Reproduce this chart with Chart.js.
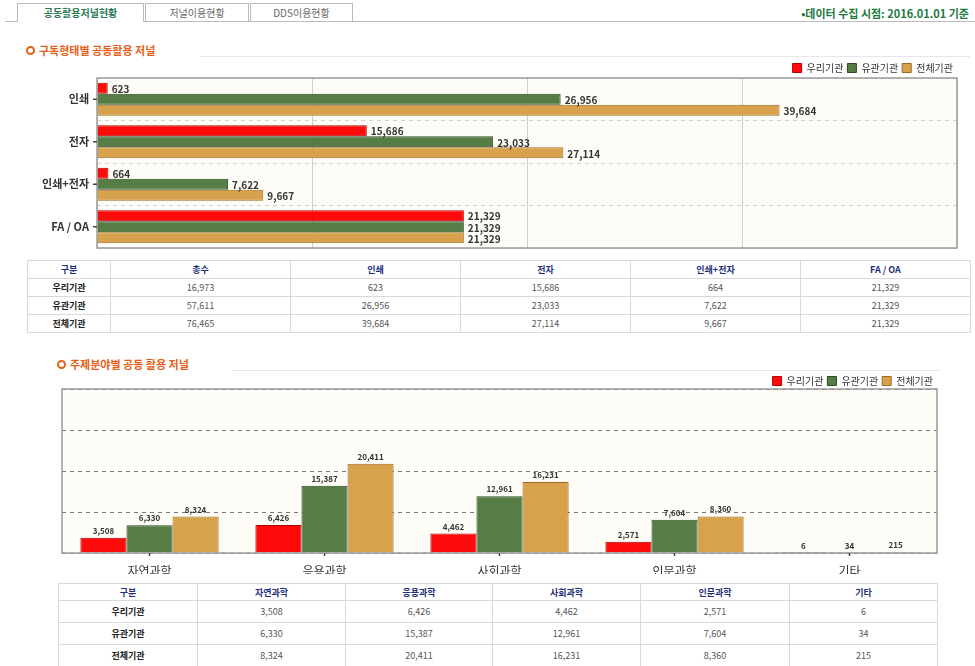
<!DOCTYPE html>
<html>
<head>
<meta charset="utf-8">
<script src="https://cdn.jsdelivr.net/npm/chart.js@4"></script>
<style>
    body { margin: 0; background: #fff; font-family: "Noto Sans CJK KR", sans-serif; }
    #page { position: relative; width: 975px; height: 666px; overflow: hidden; }
    .abs { position: absolute; }
    .tab { position: absolute; top: 3px; height: 17px; border: 1px solid #bbb; border-bottom: none; background: #fff;
           font-size: 10px; line-height: 17px; text-align: center; color: #666; }
    .tab.on { color: #2a7a55; font-weight: bold; height: 18px; }
    .rule { position: absolute; height: 1px; background: #ddd; }
    .sec { position: absolute; font-size: 11px; font-weight: bold; color: #e4601a; white-space: nowrap; }
    .sec i { display: inline-block; width: 5px; height: 5px; border: 2px solid #e4601a; border-radius: 50%;
             margin-right: 4px; vertical-align: 0px; }
    table { position: absolute; border-collapse: collapse; table-layout: fixed; font-size: 9px; }
    td, th { border: 1px solid #d9d9d9; text-align: center; padding: 0; color: #555; }
    th { color: #1d2f7a; font-weight: bold; }
    td.lab { color: #222; font-weight: bold; }
    canvas { position: absolute; }
</style>
</head>
<body>
<div id="page">
    <div class="rule" style="left:5px; top:21px; width:970px; background:#bbb;"></div>
    <div class="tab on" style="left:17px; width:125px;">공동활용저널현황</div>
    <div class="tab" style="left:145px; width:102px;">저널이용현황</div>
    <div class="tab" style="left:250px; width:101px;">DDS이용현황</div>
    <div class="abs" style="right:6px; top:5px; font-size:11px; font-weight:bold; color:#1d7a3e;">•데이터 수집 시점: 2016.01.01 기준</div>

    <div class="sec" style="left:26px; top:42px;"><i></i>구독형태별 공동활용 저널</div>
    <div class="rule" style="left:200px; top:56px; width:770px; background:#e6e6e6;"></div>
    <div style="position:absolute; left:0; top:55px; width:975px; height:197px;"><canvas id="typeChart"></canvas></div>
    <table id="typeTable" style="left:27px; top:260px; width:943px;"></table>

    <div class="sec" style="left:57px; top:356px;"><i></i>주제분야별 공동 활용 저널</div>
    <div class="rule" style="left:233px; top:370px; width:707px; background:#e6e6e6;"></div>
    <div style="position:absolute; left:0; top:368px; width:975px; height:206px;"><canvas id="subjectChart"></canvas></div>
    <table id="subjectTable" style="left:58px; top:583px; width:879px;"></table>
</div>

<script>
// Series names
const seriesNames = ['우리기관', '유관기관', '전체기관'];
const seriesColors = ['#ff0a0a', '#567d46', '#d8a14c'];
const seriesBorders = ['#b00000', '#2c4a22', '#9c6a20'];

// 구독형태별 data
const typeLabels = ['인쇄', '전자', '인쇄+전자', 'FA / OA'];
const typeOurs = [623, 15686, 664, 21329];
const typeRelated = [26956, 23033, 7622, 21329];
const typeAll = [39684, 27114, 9667, 21329];

// 주제분야별 data
const subjectLabels = ['자연과학', '응용과학', '사회과학', '인문과학', '기타'];
const subjectOurs = [3508, 6426, 4462, 2571, 6];
const subjectRelated = [6330, 15387, 12961, 7604, 34];
const subjectAll = [8324, 20411, 16231, 8360, 215];

const fmt = v => v.toLocaleString('en-US');
const fontFamily = '"Noto Sans CJK KR", sans-serif';

// plot background, frame, category tick marks and value labels
const framePlugin = {
    id: 'frame',
    beforeDraw(chart) {
        const { ctx, chartArea: a } = chart;
        ctx.save();
        ctx.fillStyle = '#fdfcf6';
        ctx.fillRect(a.left, a.top, a.right - a.left, a.bottom - a.top);
        ctx.restore();
    },
    afterDraw(chart) {
        const { ctx, chartArea: a } = chart;
        const horizontal = chart.options.indexAxis === 'y';
        ctx.save();
        ctx.strokeStyle = '#9a9a9a';
        ctx.lineWidth = 1.5;
        ctx.strokeRect(a.left, a.top, a.right - a.left, a.bottom - a.top);

        // tick marks at category centres
        ctx.strokeStyle = '#444';
        ctx.lineWidth = 1.5;
        const cat = horizontal ? chart.scales.y : chart.scales.x;
        cat.ticks.forEach((t, i) => {
            const p = cat.getPixelForTick(i);
            ctx.beginPath();
            if (horizontal) { ctx.moveTo(a.left - 4, p); ctx.lineTo(a.left, p); }
            else { ctx.moveTo(p, a.bottom); ctx.lineTo(p, a.bottom + 3); }
            ctx.stroke();
        });

        // value labels
        ctx.fillStyle = '#333';
        chart.data.datasets.forEach((ds, di) => {
            chart.getDatasetMeta(di).data.forEach((bar, i) => {
                if (horizontal) {
                    ctx.font = 'bold 10px ' + fontFamily;
                    ctx.textAlign = 'left';
                    ctx.textBaseline = 'middle';
                    ctx.fillText(fmt(ds.data[i]), bar.x + 4, bar.y + 1);
                } else {
                    ctx.font = 'bold 8px ' + fontFamily;
                    ctx.textAlign = 'center';
                    ctx.textBaseline = 'bottom';
                    ctx.fillText(fmt(ds.data[i]), bar.x, bar.y - 3);
                }
            });
        });
        ctx.restore();
    }
};

function makeDatasets(values, catPct) {
    return values.map((data, i) => ({
        label: seriesNames[i],
        data: data,
        backgroundColor: seriesColors[i],
        borderColor: seriesBorders[i],
        borderWidth: 1,
        barPercentage: 1,
        categoryPercentage: catPct,
    }));
}

function legendOpts(maxH) {
    return {
        position: 'top',
        align: 'end',
        maxHeight: maxH,
        labels: {
            boxWidth: 9,
            boxHeight: 9,
            padding: 4,
            color: '#333',
            font: { size: 10, family: fontFamily },
        },
    };
}

// horizontal chart
new Chart(document.getElementById('typeChart'), {
    type: 'bar',
    data: {
        labels: typeLabels,
        datasets: makeDatasets([typeOurs, typeRelated, typeAll], 0.78),
    },
    options: {
        indexAxis: 'y',
        responsive: true,
        maintainAspectRatio: false,
        animation: false,
        layout: { padding: { top: 4, right: 18, bottom: 4, left: 0 } },
        plugins: { legend: legendOpts(19), tooltip: { enabled: false } },
        scales: {
            x: {
                min: 0,
                max: 50000,
                ticks: { display: false, stepSize: 12500 },
                grid: { color: '#cfcfcf', drawTicks: false },
                border: { display: false },
                afterFit: s => { s.height = 0; s.paddingLeft = 0; s.paddingRight = 0; },
            },
            y: {
                ticks: { color: '#333', padding: 8, font: { size: 11, weight: 'bold', family: fontFamily } },
                grid: { color: '#d0d0d0', drawTicks: false },
                border: { display: false, dash: [4, 4] },
                afterFit: s => { s.width = 97; s.paddingTop = 0; s.paddingBottom = 0; },
            },
        },
    },
    plugins: [framePlugin],
});

// vertical chart
new Chart(document.getElementById('subjectChart'), {
    type: 'bar',
    data: {
        labels: subjectLabels,
        datasets: makeDatasets([subjectOurs, subjectRelated, subjectAll], 0.79),
    },
    options: {
        responsive: true,
        maintainAspectRatio: false,
        animation: false,
        layout: { padding: { top: 4, right: 38, bottom: 0, left: 62 } },
        plugins: { legend: legendOpts(17), tooltip: { enabled: false } },
        scales: {
            x: {
                ticks: { color: '#333', padding: 3, font: { size: 12, family: fontFamily } },
                grid: { display: false },
                border: { display: false },
                afterFit: s => { s.height = 21; },
            },
            y: {
                min: 0,
                max: 37500,
                ticks: { display: false, stepSize: 9375 },
                grid: { color: '#777', drawTicks: false },
                border: { display: false, dash: [4, 4] },
                afterFit: s => { s.width = 0; },
            },
        },
    },
    plugins: [framePlugin],
});

// tables
function fillTable(id, head, rows, widths, headH, rowH) {
    const table = document.getElementById(id);
    let html = '<colgroup>' + widths.map(w => `<col style="width:${w}px">`).join('') + '</colgroup>';
    html += `<tr style="height:${headH}px">` + head.map(h => `<th>${h}</th>`).join('') + '</tr>';
    rows.forEach(r => {
        html += `<tr style="height:${rowH}px"><td class="lab">${r[0]}</td>` +
            r.slice(1).map(v => `<td>${fmt(v)}</td>`).join('') + '</tr>';
    });
    table.innerHTML = html;
}

const typeSeries = [typeOurs, typeRelated, typeAll];
fillTable('typeTable', ['구분', '총수'].concat(typeLabels),
    typeSeries.map((s, i) => [seriesNames[i], s[0] + s[1] + s[2]].concat(s)),
    [83, 180, 170, 170, 170, 170], 18, 18);

const subjectSeries = [subjectOurs, subjectRelated, subjectAll];
fillTable('subjectTable', ['구분'].concat(subjectLabels),
    subjectSeries.map((s, i) => [seriesNames[i]].concat(s)),
    [139, 148, 147, 148, 149, 148], 17, 22);
</script>
</body>
</html>
